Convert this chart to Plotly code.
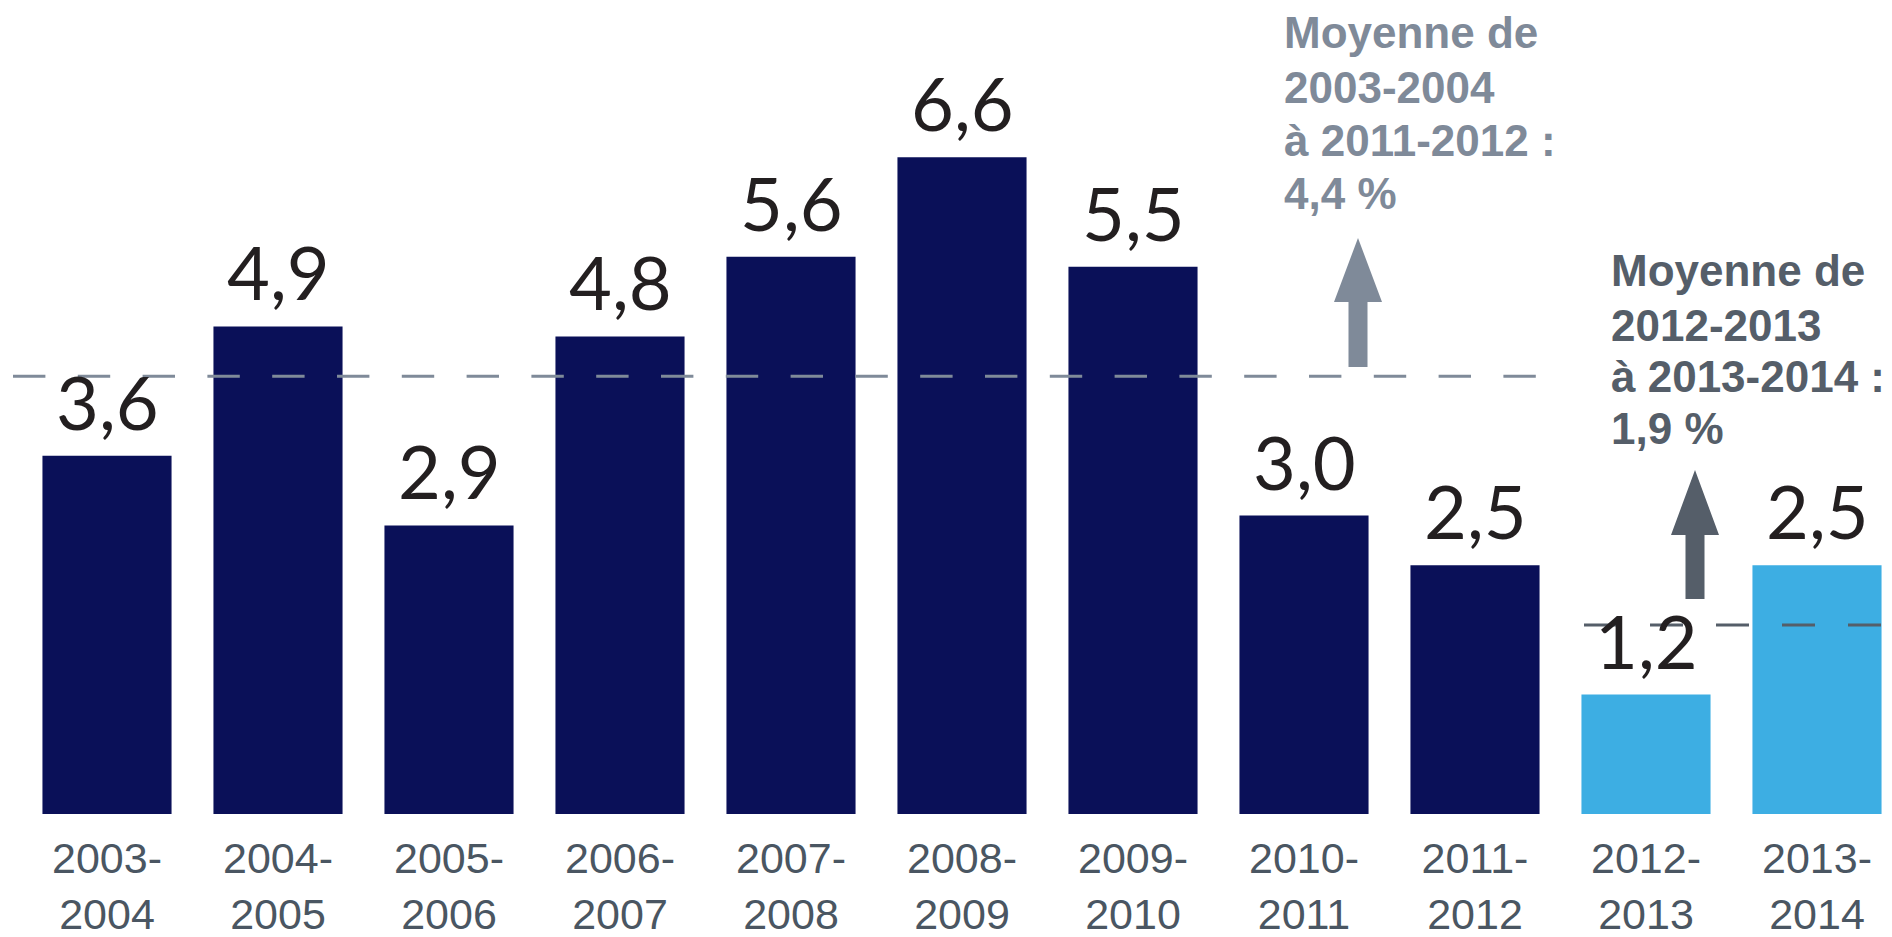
import plotly.graph_objects as go

# data
periodes = ["2003-2004", "2004-2005", "2005-2006", "2006-2007", "2007-2008",
            "2008-2009", "2009-2010", "2010-2011", "2011-2012", "2012-2013", "2013-2014"]
croissance = [3.6, 4.9, 2.9, 4.8, 5.6, 6.6, 5.5, 3.0, 2.5, 1.2, 2.5]
moyenne_1 = 4.4   # 2003-2004 a 2011-2012
moyenne_2 = 1.9   # 2012-2013 a 2013-2014
texte_1 = ["Moyenne de", "2003-2004", "à 2011-2012 :", "4,4 %"]
texte_2 = ["Moyenne de", "2012-2013", "à 2013-2014 :", "1,9 %"]

NAVY = "#0a1058"
LIGHT = "#3daee3"
GRAY1 = "#7f8a99"
GRAY2 = "#555e69"

# pixel helpers (plot area: x=0 centre at 107px, pitch 171px; y=0 at 814px, 99.5px/unit)
def px_x(p):
    return (p - 107) / 171


def px_y(p):
    return (814 - p) / 99.5


x = list(range(len(periodes)))
colors = [NAVY] * 9 + [LIGHT] * 2
labels = [f"{v:.1f}".replace(".", ",") for v in croissance]
ticks = [p.replace("-", "-<br>") for p in periodes]

fig = go.Figure()
fig.add_trace(go.Bar(
    x=x, y=croissance, marker_color=colors, marker_line_width=0,
    width=0.755, hoverinfo="skip",
))

# value labels above bars
for xi, v, lab in zip(x, croissance, labels):
    fig.add_annotation(x=xi, y=v, text=lab, showarrow=False, yanchor="bottom",
                       yshift=8, font=dict(family="Lato, Arial", size=74, color="#231f20"))

# dashed average lines
fig.add_shape(type="line", x0=px_x(13), x1=px_x(1536), y0=moyenne_1, y1=moyenne_1,
              line=dict(color=GRAY1, width=3, dash="32.4px,32.4px"), layer="above")
fig.add_shape(type="line", x0=px_x(1584), x1=px_x(1881), y0=moyenne_2, y1=moyenne_2,
              line=dict(color=GRAY2, width=3, dash="33px,33px"), layer="above")


def arrow(cx, bottom, base, tip, color):
    c = px_x(cx)
    sw = 9.5 / 171
    hw = 24 / 171
    y0, yb, yt = px_y(bottom), px_y(base), px_y(tip)
    path = (f"M{c-sw},{y0} L{c+sw},{y0} L{c+sw},{yb} L{c+hw},{yb} "
            f"L{c},{yt} L{c-hw},{yb} L{c-sw},{yb} Z")
    fig.add_shape(type="path", path=path, fillcolor=color, line_width=0, layer="above")


arrow(1358, 367, 302, 238, GRAY1)
arrow(1695, 599, 535, 470, GRAY2)

# annotation text, one line at a time (baseline positions in px)
for txt, left, baselines, col in [(texte_1, 1282, [47, 102, 155, 208], GRAY1),
                                  (texte_2, 1609, [285, 340, 391, 443], GRAY2)]:
    for line, b in zip(txt, baselines):
        fig.add_annotation(x=px_x(left), y=px_y(b - 15), xanchor="left", yanchor="middle",
                           showarrow=False, text=f"<b>{line}</b>",
                           font=dict(family="Liberation Sans, Arial", size=44, color=col))

fig.update_layout(
    width=1892, height=937, margin=dict(l=0, r=0, t=0, b=123, autoexpand=False),
    plot_bgcolor="white", paper_bgcolor="white", showlegend=False,
    xaxis=dict(range=[px_x(0), px_x(1892)], tickvals=x, ticktext=ticks,
               showgrid=False, zeroline=False, showline=False, ticks="",
               automargin=False, ticklabelstandoff=15,
               tickfont=dict(family="Liberation Sans, Arial", size=43, color="#4a5662")),
    yaxis=dict(range=[0, px_y(0)], visible=False, automargin=False),
)

fig.write_html("out.html", config={"displayModeBar": False},
               post_script="document.body.style.margin='0';")
